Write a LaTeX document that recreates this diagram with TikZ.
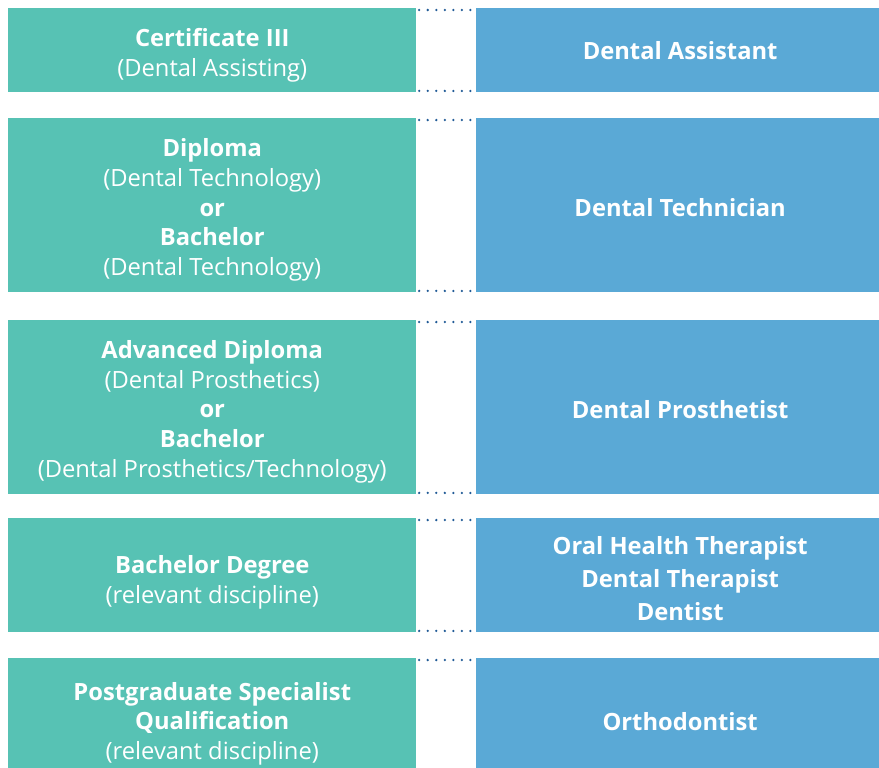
\documentclass[tikz,border=0pt]{standalone}
\usepackage{fontspec}
\setmainfont{Open Sans}
\definecolor{tealbox}{RGB}{87,194,180}
\definecolor{bluebox}{RGB}{90,169,214}
\definecolor{dotblue}{RGB}{32,90,150}
\begin{document}
\begin{tikzpicture}[x=0.75pt,y=-0.75pt,
  lbox/.style={fill=tealbox,draw=none,anchor=north west,minimum width=306pt,inner sep=0pt},
  rbox/.style={fill=bluebox,draw=none,anchor=north west,minimum width=302.25pt,inner sep=0pt},
  ltext/.style={inner sep=0pt,text=white,align=center,font=\fontsize{17.8pt}{22.2pt}\selectfont},
  rtext/.style={inner sep=0pt,text=white,align=center,font=\fontsize{17.8pt}{24.8pt}\selectfont\bfseries},
  dotline/.style={draw=dotblue,line width=1.9pt,dash pattern=on 0pt off 6.4pt,line cap=round}
]
\clip (0,0) rectangle (879,768);
% boxes
\node[lbox,minimum height=63pt] (L1) at (8,8) {};
\node[rbox,minimum height=63pt] (R1) at (476,8) {};
\node[lbox,minimum height=130.5pt] (L2) at (8,118) {};
\node[rbox,minimum height=130.5pt] (R2) at (476,118) {};
\node[lbox,minimum height=130.5pt] (L3) at (8,320) {};
\node[rbox,minimum height=130.5pt] (R3) at (476,320) {};
\node[lbox,minimum height=85.5pt] (L4) at (8,518) {};
\node[rbox,minimum height=85.5pt] (R4) at (476,518) {};
\node[lbox,minimum height=93pt] (L5) at (8,658) {};
\node[rbox,minimum height=93pt] (R5) at (476,658) {};
% texts
\node[ltext] (TL1) at ([yshift=-3.9pt]L1.center) {\textbf{Certificate III}\\(Dental Assisting)};
\node[rtext] (TR1) at ([xshift=1.8pt,yshift=0pt]R1.center) {Dental Assistant};
\node[ltext] (TL2) at ([yshift=-3.5pt]L2.center) {\textbf{Diploma}\\(Dental Technology)\\\textbf{or}\\\textbf{Bachelor}\\(Dental Technology)};
\node[rtext] (TR2) at ([xshift=1.8pt,yshift=-1.5pt]R2.center) {Dental Technician};
\node[ltext] (TL3) at ([yshift=-3.4pt]L3.center) {\textbf{Advanced Diploma}\\(Dental Prosthetics)\\\textbf{or}\\\textbf{Bachelor}\\(Dental Prosthetics/Technology)};
\node[rtext] (TR3) at ([xshift=1.8pt,yshift=-1.5pt]R3.center) {Dental Prosthetist};
\node[ltext] (TL4) at ([yshift=-5.2pt]L4.center) {\textbf{Bachelor Degree}\\(relevant discipline)};
\node[rtext] (TR4) at ([xshift=1.8pt,yshift=-2.3pt]R4.center) {Oral Health Therapist\\Dental Therapist\\Dentist};
\node[ltext] (TL5) at ([yshift=-2.4pt]L5.center) {\textbf{Postgraduate Specialist}\\\textbf{Qualification}\\(relevant discipline)};
\node[rtext] (TR5) at ([xshift=1.8pt,yshift=-0.8pt]R5.center) {Orthodontist};
% dotted connectors
\foreach \i in {1,...,5}{
  \draw[dotline] ([xshift=2pt,yshift=-1.5pt]L\i.north east) -- ([yshift=-1.5pt]R\i.north west);
}
\foreach \i in {1,...,4}{
  \draw[dotline] ([xshift=2pt,yshift=1.2pt]L\i.south east) -- ([yshift=1.2pt]R\i.south west);
}
\end{tikzpicture}
\end{document}
